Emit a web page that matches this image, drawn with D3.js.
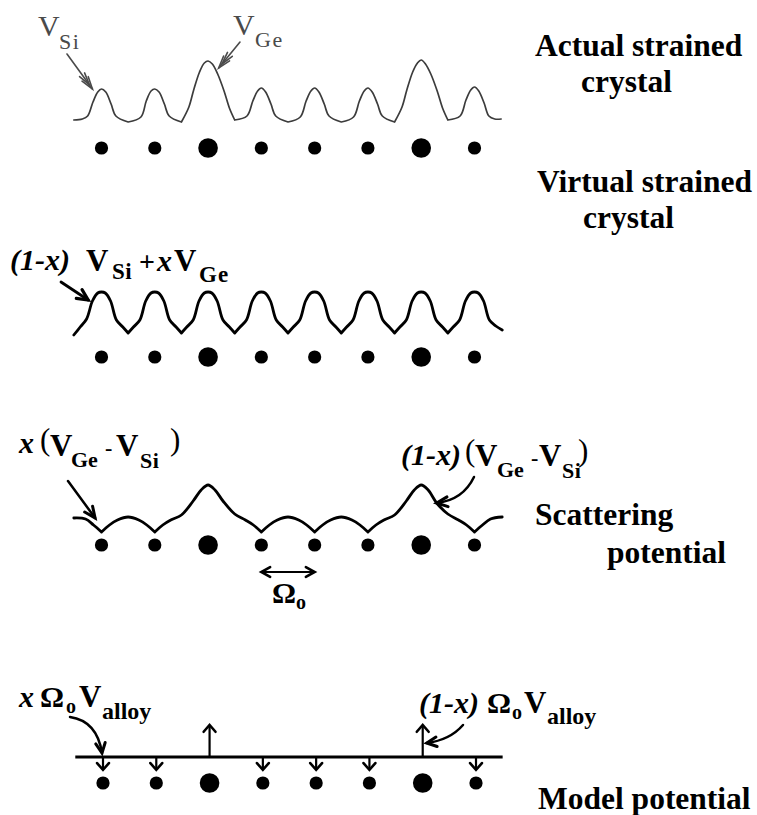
<!DOCTYPE html>
<html>
<head>
<meta charset="utf-8">
<script src="https://cdn.jsdelivr.net/npm/d3@7"></script>
<style>
  body { margin: 0; background: #fff; }
  svg text { font-family: "Liberation Serif", "Times New Roman", serif; }
</style>
</head>
<body>
<svg id="fig" width="757" height="815"></svg>
<script>
// ---- lattice: eight sites along the chain, two of them occupied by Ge ----
const sites = [0, 1, 2, 3, 4, 5, 6, 7];
const atomTypes = ["Si", "Si", "Ge", "Si", "Si", "Si", "Ge", "Si"];

// ---- actual strained crystal: potential knots [site coordinate, potential], split at the valleys ----
const actualPotential = [
  [[-0.52, 1], [-0.36, 2], [-0.26, 5], [-0.16, 19], [-0.07, 29], [0, 32], [0.08, 29], [0.18, 17], [0.27, 5], [0.5, -1]],
  [[0.5, -1], [0.74, 4], [0.84, 20], [0.93, 30], [1, 32], [1.08, 29], [1.18, 17], [1.27, 5], [1.5, -1]],
  [[1.5, -1], [1.64, 14], [1.73, 31], [1.84, 49], [1.93, 58], [2, 60], [2.08, 57], [2.18, 47], [2.3, 30], [2.4, 13], [2.5, 1]],
  [[2.5, 1], [2.73, 5], [2.84, 20], [2.93, 30], [3, 33], [3.08, 29], [3.18, 17], [3.27, 5], [3.5, -1]],
  [[3.5, -1], [3.73, 4], [3.84, 20], [3.93, 30], [4, 33], [4.08, 29], [4.18, 17], [4.27, 5], [4.5, -1]],
  [[4.5, -1], [4.73, 4], [4.84, 20], [4.93, 30], [5, 33], [5.08, 29], [5.18, 17], [5.27, 5], [5.5, -1]],
  [[5.5, -1], [5.64, 14], [5.73, 31], [5.84, 49], [5.93, 58], [6, 61], [6.08, 57], [6.18, 47], [6.3, 30], [6.4, 13], [6.5, 1]],
  [[6.5, 1], [6.73, 5], [6.84, 21], [6.93, 31], [7, 34], [7.08, 30], [7.18, 18], [7.27, 5], [7.38, 2], [7.5, 2]]
];

// ---- virtual strained crystal: every site carries the averaged potential ----
const virtualPotential = [
  [[-0.52, -2], [-0.4, 6], [-0.28, 14], [-0.17, 32], [-0.07, 40], [0, 41], [0.07, 40], [0.17, 32], [0.28, 13], [0.4, 6], [0.5, 0]],
  [[0.5, 0], [0.6, 6], [0.72, 13], [0.83, 32], [0.93, 40], [1, 41], [1.07, 40], [1.17, 32], [1.28, 13], [1.4, 6], [1.5, 0]],
  [[1.5, 0], [1.6, 6], [1.72, 13], [1.83, 32], [1.93, 40], [2, 41], [2.07, 40], [2.17, 32], [2.28, 13], [2.4, 6], [2.5, 0]],
  [[2.5, 0], [2.6, 6], [2.72, 13], [2.83, 32], [2.93, 40], [3, 41], [3.07, 40], [3.17, 32], [3.28, 13], [3.4, 6], [3.5, 0]],
  [[3.5, 0], [3.6, 6], [3.72, 13], [3.83, 32], [3.93, 40], [4, 41], [4.07, 40], [4.17, 32], [4.28, 13], [4.4, 6], [4.5, 0]],
  [[4.5, 0], [4.6, 6], [4.72, 13], [4.83, 32], [4.93, 40], [5, 41], [5.07, 40], [5.17, 32], [5.28, 13], [5.4, 6], [5.5, 0]],
  [[5.5, 0], [5.6, 6], [5.72, 13], [5.83, 32], [5.93, 40], [6, 41], [6.07, 40], [6.17, 32], [6.28, 13], [6.4, 6], [6.5, 0]],
  [[6.5, 0], [6.6, 6], [6.72, 13], [6.83, 32], [6.93, 40], [7, 41], [7.07, 40], [7.17, 32], [7.28, 13], [7.4, 7], [7.52, 3]]
];

// ---- scattering potential: cusps down at Si sites, peaks up at Ge sites ----
const scatteringPotential = [
  [[-0.52, 14], [-0.3, 13], [-0.15, 7], [0, 0]],
  [[0, 0], [0.15, 7], [0.3, 12], [0.5, 15], [0.7, 12], [0.85, 7], [1, 0]],
  [[1, 0], [1.15, 7], [1.3, 12], [1.5, 17], [1.72, 31], [1.87, 42], [2, 47], [2.13, 42], [2.28, 31], [2.5, 18], [2.7, 12], [2.85, 7], [3, 0]],
  [[3, 0], [3.15, 7], [3.3, 12], [3.5, 15], [3.7, 12], [3.85, 7], [4, 0]],
  [[4, 0], [4.15, 7], [4.3, 12], [4.5, 15], [4.7, 12], [4.85, 7], [5, 0]],
  [[5, 0], [5.15, 7], [5.3, 12], [5.5, 17], [5.72, 31], [5.87, 42], [6, 47], [6.13, 42], [6.29, 29], [6.5, 18], [6.7, 12], [6.85, 7], [7, 0]],
  [[7, 0], [7.15, 7], [7.3, 13], [7.52, 15]]
];

// ---- model potential: delta-like strengths (x Ω0 V_alloy down, (1-x) Ω0 V_alloy up) ----
const modelPotential = [-0.4, -0.4, 1, -0.4, -0.4, -0.4, 1, -0.4];
const modelExtent = [-0.52, 7.5];

// ---- row labels ----
const rowTitles = [
  ["Actual strained", "crystal"],
  ["Virtual strained", "crystal"],
  ["Scattering", "potential"],
  ["Model potential"]
];

const svg = d3.select("#fig");

// horizontal scales (one per row, the bottom row sits a touch to the right)
const xRow = d3.scaleLinear().domain([0, 7]).range([101.5, 474.5]);
const xModel = d3.scaleLinear().domain([0, 7]).range([103, 476]);

// vertical scales for each potential
const yActual = d3.scaleLinear().domain([0, 60]).range([121, 61]);
const yVirtual = d3.scaleLinear().domain([0, 41]).range([333, 292]);
const yScatter = d3.scaleLinear().domain([0, 47]).range([532, 485]);
const yModel = d3.scaleLinear().domain([0, 1]).range([757, 725]);

const atomRadius = d3.scaleOrdinal().domain(["Si", "Ge"]).range([6.6, 9.8]);

function drawAtoms(xs, cy) {
  svg.append("g").selectAll("circle")
    .data(sites)
    .join("circle")
    .attr("cx", d => xs(d))
    .attr("cy", cy)
    .attr("r", d => atomRadius(atomTypes[d]))
    .attr("fill", "#000");
}

function drawPotential(segments, xs, ys, color, width) {
  const line = d3.line()
    .x(d => xs(d[0]))
    .y(d => ys(d[1]))
    .curve(d3.curveCatmullRom.alpha(0.5));
  svg.append("path")
    .attr("d", segments.map(s => line(s)).join(""))
    .attr("fill", "none")
    .attr("stroke", color)
    .attr("stroke-width", width)
    .attr("stroke-linecap", "round")
    .attr("stroke-linejoin", "round");
}

// open chevron arrow head at `tip`, pointing along angle `ang`
function head(g, tip, ang, len, spread, color, width) {
  const p = d3.path();
  const a1 = ang + Math.PI - spread, a2 = ang + Math.PI + spread;
  p.moveTo(tip[0] + len * Math.cos(a1), tip[1] + len * Math.sin(a1));
  p.lineTo(tip[0], tip[1]);
  p.lineTo(tip[0] + len * Math.cos(a2), tip[1] + len * Math.sin(a2));
  g.append("path").attr("d", p.toString()).attr("fill", "none")
    .attr("stroke", color).attr("stroke-width", width)
    .attr("stroke-linecap", "round").attr("stroke-linejoin", "miter");
}

// pointer from a label to a feature; straight or bent through `ctrl`
function pointer(tail, tip, ctrl, opts) {
  const o = Object.assign({ color: "#000", width: 2.4, len: 12, spread: 0.38, headWidth: 2.6 }, opts);
  const g = svg.append("g");
  const p = d3.path();
  p.moveTo(tail[0], tail[1]);
  let from = tail;
  if (ctrl) { p.quadraticCurveTo(ctrl[0], ctrl[1], tip[0], tip[1]); from = ctrl; }
  else p.lineTo(tip[0], tip[1]);
  g.append("path").attr("d", p.toString()).attr("fill", "none")
    .attr("stroke", o.color).attr("stroke-width", o.width).attr("stroke-linecap", "round");
  const ang = Math.atan2(tip[1] - from[1], tip[0] - from[0]);
  head(g, tip, ang, o.len, o.spread, o.color, o.headWidth);
  if (o.double) head(g, [tip[0] - 5 * Math.cos(ang), tip[1] - 5 * Math.sin(ang)], ang, o.len, o.spread * 0.8, o.color, o.headWidth);
}

// rich label built from pieces: [text, x, baseline, size, weight, style, spacing]
function label(pieces, color) {
  const t = svg.append("text").attr("fill", color || "#000");
  pieces.forEach(([txt, x, y, size, weight, style, spacing]) => {
    t.append("tspan").attr("x", x).attr("y", y)
      .attr("font-size", size).attr("font-weight", weight || "bold")
      .attr("font-style", style || "normal")
      .attr("letter-spacing", spacing || 0).text(txt);
  });
}

// ================= row 1: actual strained crystal =================
drawPotential(actualPotential, xRow, yActual, "#3c3c3c", 1.7);
drawAtoms(xRow, 148);
label([
  ["V", 38, 36, 30, "normal"], ["Si", 59, 49, 22, "normal", "normal", 1.5],
  ["V", 233, 35, 30, "normal"], ["Ge", 255, 47, 22, "normal", "normal", 1.5]
], "#4a4a4a");
pointer([67, 54], [xRow(-0.17), yActual(32)], null, { color: "#4a4a4a", width: 1.6, len: 13, spread: 0.3, headWidth: 1.6, double: true });
pointer([240, 42], [xRow(2.2), yActual(53)], null, { color: "#4a4a4a", width: 1.6, len: 13, spread: 0.3, headWidth: 1.6, double: true });

// ================= row 2: virtual strained crystal =================
drawPotential(virtualPotential, xRow, yVirtual, "#000", 2.8);
drawAtoms(xRow, 357);
label([
  ["(1-x)", 10, 270, 30, "bold", "italic"],
  ["V", 86, 271, 31], ["Si", 112, 279, 23, "bold", "normal", 0.5],
  ["+", 139, 271, 28], ["x", 157, 271, 30, "bold", "italic"],
  ["V", 174, 271, 31], ["Ge", 199, 282, 23, "bold", "normal", 1]
]);
pointer([61, 282], [xRow(-0.25), yVirtual(33)], null, { width: 2.8, len: 12, spread: 0.45, headWidth: 3.2 });

// ================= row 3: scattering potential =================
drawPotential(scatteringPotential, xRow, yScatter, "#000", 2.8);
drawAtoms(xRow, 545);
label([
  ["x", 19, 453, 30, "bold", "italic"],
  ["(", 40, 450, 31, "normal"], ["V", 50, 456, 31], ["Ge", 71, 467, 22], ["-", 105, 455, 22],
  ["V", 116, 456, 31], ["Si", 140, 468, 22, "bold", "normal", 0.5], [")", 170, 450, 31, "normal"],
  ["(1-x)", 401, 465, 30, "bold", "italic"],
  ["(", 465, 461, 31, "normal"], ["V", 475, 466, 31], ["Ge", 497, 477, 22], ["-", 531, 465, 22],
  ["V", 539, 466, 31], ["Si", 562, 478, 22, "bold", "normal", 0.5], [")", 578, 461, 31, "normal"]
]);
pointer([68, 481], [xRow(-0.12), yScatter(14)], null, { width: 2.5, len: 12, spread: 0.42, headWidth: 3 });
pointer([474, 477], [xRow(6.29), yScatter(29)], [463, 500], { width: 2.5, len: 12, spread: 0.42, headWidth: 3 });

// lattice spacing Ω0 between two neighbouring sites
(function () {
  const g = svg.append("g");
  const a = xRow(3), b = xRow(4), y = 572;
  g.append("line").attr("x1", a + 1).attr("x2", b - 1).attr("y1", y).attr("y2", y)
    .attr("stroke", "#000").attr("stroke-width", 2.2);
  head(g, [a, y], Math.PI, 10, 0.5, "#000", 2.6);
  head(g, [b, y], 0, 10, 0.5, "#000", 2.6);
})();
label([["Ω", 272, 603, 30], ["o", 296, 609, 20]]);

// ================= row 4: model potential =================
svg.append("line")
  .attr("x1", xModel(modelExtent[0])).attr("x2", xModel(modelExtent[1]))
  .attr("y1", yModel(0)).attr("y2", yModel(0))
  .attr("stroke", "#000").attr("stroke-width", 3);
(function () {
  const g = svg.append("g");
  sites.forEach(i => {
    const x = xModel(i), v = modelPotential[i];
    const y0 = yModel(0), y1 = yModel(v);
    g.append("line").attr("x1", x).attr("x2", x).attr("y1", y0).attr("y2", y1)
      .attr("stroke", "#000").attr("stroke-width", 2.2);
    head(g, [x, y1], v > 0 ? -Math.PI / 2 : Math.PI / 2, 9, 0.72, "#000", 2.6);
  });
})();
drawAtoms(xModel, 783);
label([
  ["x", 19, 707, 30, "bold", "italic"],
  ["Ω", 40, 707, 30], ["o", 66, 713, 20], ["V", 79, 707, 31], ["alloy", 102, 719, 24],
  ["(1-x)", 419, 713, 30, "bold", "italic"],
  ["Ω", 487, 713, 30], ["o", 512, 719, 20], ["V", 524, 713, 31], ["alloy", 547, 724, 24]
]);
pointer([70, 717], [xModel(0) - 1, yModel(0) - 4], [97, 721], { width: 2.5, len: 11, spread: 0.45, headWidth: 3 });
pointer([463, 725], [xModel(6) + 4, yModel(0) - 14], [450, 740], { width: 2.5, len: 11, spread: 0.45, headWidth: 3 });

// ================= row titles on the right (one text block per row) =================
const titleRows = [
  { lines: rowTitles[0], xs: [535, 581], ys: [56, 92] },
  { lines: rowTitles[1], xs: [537, 583], ys: [192, 228] },
  { lines: rowTitles[2], xs: [535, 607], ys: [525, 563] },
  { lines: rowTitles[3], xs: [538], ys: [809] }
];
titleRows.forEach(r => {
  const t = svg.append("text")
    .attr("font-size", 31.5).attr("font-weight", "bold").attr("fill", "#000");
  r.lines.forEach((txt, i) => {
    t.append("tspan").attr("x", r.xs[i]).attr("y", r.ys[i]).text(txt);
  });
});
</script>
</body>
</html>
